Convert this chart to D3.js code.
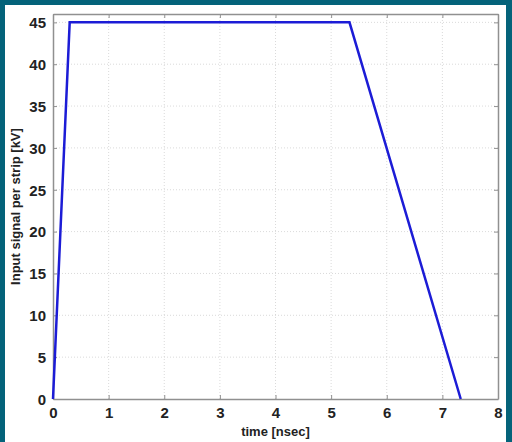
<!DOCTYPE html>
<html><head><meta charset="utf-8">
<script src="https://cdn.jsdelivr.net/npm/d3@7"></script>
<style>body{margin:0;background:#fff}svg{display:block}</style>
</head><body><svg id="c" width="512" height="442"></svg>
<script>
const timeNs = [0, 0.3, 5.33, 7.33];
const signalKV = [0, 45, 45, 0];
const xTicks = [0,1,2,3,4,5,6,7,8];
const yTicks = [0,5,10,15,20,25,30,35,40,45];

const svg = d3.select("#c");
const L=53, R=498, T=14, B=399;
const x = d3.scaleLinear().domain([0,8]).range([L,R]);
const y = d3.scaleLinear().domain([0,46]).range([B,T]);

svg.append("rect").attr("width",512).attr("height",442).attr("fill","#fff");
svg.append("rect").attr("x",0).attr("y",0).attr("width",512).attr("height",5).attr("fill","#04637a");
svg.append("rect").attr("x",0).attr("y",0).attr("width",5).attr("height",442).attr("fill","#04637a");
svg.append("rect").attr("x",506).attr("y",0).attr("width",6).attr("height",442).attr("fill","#04637a");

const g = svg.append("g");
// grid
g.selectAll(".gx").data(xTicks.slice(1,-1)).enter().append("line")
 .attr("x1",d=>x(d)).attr("x2",d=>x(d)).attr("y1",T).attr("y2",B)
 .attr("stroke","#d0d0d0").attr("stroke-width",0.8).attr("stroke-dasharray","1,2");
g.selectAll(".gy").data(yTicks.slice(1)).enter().append("line")
 .attr("y1",d=>y(d)).attr("y2",d=>y(d)).attr("x1",L).attr("x2",R)
 .attr("stroke","#d0d0d0").attr("stroke-width",0.8).attr("stroke-dasharray","1,2");

// axes with inner ticks
const fmt = d3.format("d");
const xa = svg.append("g").attr("transform",`translate(0,${B})`)
 .call(d3.axisBottom(x).tickValues(xTicks).tickFormat(fmt).tickSizeInner(-4).tickSizeOuter(0).tickPadding(8));
const xt = svg.append("g").attr("transform",`translate(0,${T})`)
 .call(d3.axisTop(x).tickValues(xTicks).tickFormat("").tickSizeInner(-4).tickSizeOuter(0));
const ya = svg.append("g").attr("transform",`translate(${L},0)`)
 .call(d3.axisLeft(y).tickValues(yTicks).tickFormat(fmt).tickSizeInner(-4).tickSizeOuter(0).tickPadding(7));
const yr = svg.append("g").attr("transform",`translate(${R},0)`)
 .call(d3.axisRight(y).tickValues(yTicks).tickFormat("").tickSizeInner(-4).tickSizeOuter(0));
[xa,xt,ya,yr].forEach(a=>{
  a.select(".domain").attr("stroke","#909090").attr("stroke-width",1.5);
  a.selectAll(".tick line").attr("stroke","#909090");
  a.selectAll("text").attr("fill","#222").style("font-family","Liberation Sans, Arial, sans-serif")
   .style("font-size","15px").style("font-weight","bold");
});
ya.selectAll("text").attr("dy","0.35em");

// line
const line = d3.line().x((d,i)=>x(timeNs[i])).y((d,i)=>y(signalKV[i]));
svg.append("path").datum(signalKV).attr("d",line).attr("fill","none")
 .attr("stroke","#1c1cd6").attr("stroke-width",2.5).attr("stroke-linejoin","miter");

svg.append("text").attr("x",(L+R)/2).attr("y",436).attr("text-anchor","middle")
 .style("font-family","Liberation Sans, Arial, sans-serif").style("font-size","13px").style("font-weight","bold")
 .attr("fill","#222").text("time [nsec]");
svg.append("text").attr("transform",`translate(20,${(T+B)/2}) rotate(-90)`).attr("text-anchor","middle")
 .style("font-family","Liberation Sans, Arial, sans-serif").style("font-size","13px").style("font-weight","bold")
 .attr("fill","#222").text("Input signal per strip [kV]");
</script></body></html>
